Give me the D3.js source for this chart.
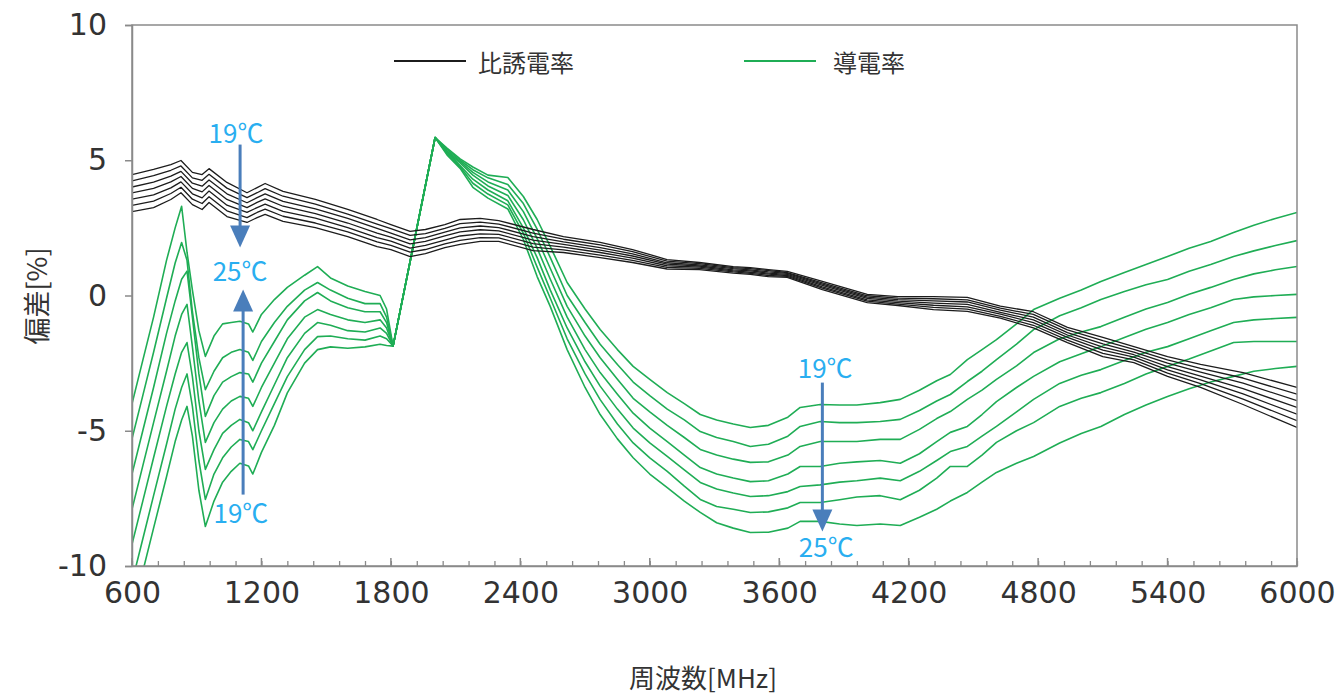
<!DOCTYPE html>
<html>
<head>
<meta charset="utf-8">
<script src="https://cdn.jsdelivr.net/npm/d3@7"></script>
<style>
  body { margin: 0; background: #fff; }
  svg { display: block; }
</style>
</head>
<body>
<svg id="chart" width="1344" height="698"></svg>
<script>
// frequency grids (MHz)
var freqBlack = [600, 700, 780, 827, 880, 925, 957, 1040, 1133, 1180, 1217, 1300, 1450, 1600, 1736, 1800, 1889, 1960, 2050, 2121, 2214, 2300, 2459, 2600, 2770, 2920, 3080, 3230, 3387, 3466, 3550, 3637, 3800, 4008, 4150, 4315, 4472, 4625, 4778, 4936, 5100, 5244, 5400, 5553, 5750, 6000]
var freqGreen = [600, 650, 700, 760, 800, 830, 855, 880, 910, 940, 980, 1020, 1060, 1100, 1140, 1160, 1200, 1260, 1320, 1400, 1460, 1520, 1600, 1680, 1750, 1780, 1810,
  2005, 2060, 2121, 2180, 2250, 2342, 2414, 2478, 2539, 2617, 2700, 2770, 2850, 2923, 3000, 3081, 3160, 3234, 3310, 3387, 3466, 3550, 3640, 3697, 3790, 3880, 3960, 4068, 4161, 4250, 4330, 4393, 4472, 4540, 4607, 4700, 4779, 4900, 5000, 5091, 5200, 5300, 5400, 5500, 5600, 5706, 5800, 5900, 6000]

// 比誘電率 deviation [%], 19℃ .. 25℃
var perm19 = [4.47, 4.66, 4.84, 4.99, 4.55, 4.47, 4.69, 4.18, 3.8, 3.99, 4.14, 3.85, 3.55, 3.18, 2.81, 2.62, 2.37, 2.44, 2.62, 2.81, 2.85, 2.77, 2.44, 2.18, 1.96, 1.7, 1.33, 1.22, 1.07, 1.03, 0.96, 0.89, 0.52, 0.04, -0.04, -0.04, -0.07, -0.39, -0.6, -1.18, -1.55, -1.89, -2.26, -2.55, -2.85, -3.4]
var perm20 = [4.24, 4.43, 4.63, 4.79, 4.35, 4.26, 4.48, 3.97, 3.62, 3.8, 3.95, 3.67, 3.38, 3.01, 2.64, 2.47, 2.22, 2.29, 2.48, 2.66, 2.71, 2.64, 2.31, 2.08, 1.87, 1.62, 1.27, 1.18, 1.03, 0.99, 0.92, 0.85, 0.47, -0.01, -0.1, -0.12, -0.16, -0.47, -0.7, -1.27, -1.67, -1.99, -2.38, -2.69, -3.05, -3.65]
var perm21 = [4.01, 4.19, 4.41, 4.59, 4.15, 4.04, 4.27, 3.76, 3.43, 3.62, 3.76, 3.48, 3.2, 2.85, 2.48, 2.31, 2.06, 2.14, 2.34, 2.5, 2.57, 2.51, 2.18, 1.98, 1.77, 1.54, 1.21, 1.13, 0.99, 0.95, 0.87, 0.82, 0.42, -0.06, -0.15, -0.2, -0.24, -0.54, -0.8, -1.37, -1.79, -2.09, -2.5, -2.83, -3.24, -3.89]
var perm22 = [3.79, 3.96, 4.2, 4.4, 3.96, 3.83, 4.07, 3.55, 3.25, 3.44, 3.57, 3.3, 3.03, 2.68, 2.31, 2.16, 1.91, 2.0, 2.2, 2.35, 2.43, 2.39, 2.05, 1.89, 1.68, 1.46, 1.16, 1.09, 0.95, 0.91, 0.83, 0.78, 0.37, -0.11, -0.21, -0.28, -0.33, -0.62, -0.9, -1.46, -1.91, -2.19, -2.63, -2.98, -3.44, -4.14]
var perm23 = [3.56, 3.72, 3.98, 4.2, 3.76, 3.61, 3.86, 3.34, 3.07, 3.25, 3.38, 3.11, 2.86, 2.51, 2.14, 2.01, 1.75, 1.85, 2.05, 2.2, 2.28, 2.26, 1.92, 1.79, 1.59, 1.38, 1.1, 1.05, 0.91, 0.86, 0.79, 0.74, 0.32, -0.16, -0.26, -0.36, -0.42, -0.69, -1.0, -1.55, -2.02, -2.28, -2.75, -3.12, -3.64, -4.39]
var perm24 = [3.33, 3.49, 3.77, 4.0, 3.56, 3.4, 3.65, 3.13, 2.88, 3.07, 3.19, 2.93, 2.68, 2.35, 1.98, 1.85, 1.6, 1.7, 1.91, 2.04, 2.14, 2.13, 1.79, 1.69, 1.49, 1.3, 1.04, 1.0, 0.87, 0.82, 0.74, 0.71, 0.27, -0.21, -0.32, -0.44, -0.5, -0.77, -1.1, -1.65, -2.14, -2.38, -2.87, -3.26, -3.83, -4.63]
var perm25 = [3.1, 3.25, 3.55, 3.8, 3.36, 3.18, 3.44, 2.92, 2.7, 2.88, 3.0, 2.74, 2.51, 2.18, 1.81, 1.7, 1.44, 1.55, 1.77, 1.89, 2.0, 2.0, 1.66, 1.59, 1.4, 1.22, 0.98, 0.96, 0.83, 0.78, 0.7, 0.67, 0.22, -0.26, -0.37, -0.52, -0.59, -0.84, -1.2, -1.74, -2.26, -2.48, -2.99, -3.4, -4.03, -4.88]

// 導電率 deviation [%], 19℃ .. 25℃
var cond19 = [-11.8, -10.2, -8.6, -6.7, -5.4, -4.6, -4.1, -5.2, -7.2, -8.54, -7.6, -6.9, -6.5, -6.2, -6.3, -6.6, -5.8, -4.8, -3.6, -2.5, -2.0, -1.9, -1.95, -1.9, -1.8, -1.85, -1.87,
  5.84, 5.45, 5.05, 4.75, 4.45, 4.36, 3.66, 2.81, 1.81, 0.48, -0.5, -1.26, -2.0, -2.62, -3.1, -3.59, -4.0, -4.4, -4.6, -4.75, -4.88, -4.8, -4.5, -4.14, -4.03, -4.05, -4.05, -3.96, -3.84, -3.5, -3.15, -2.92, -2.37, -2.0, -1.63, -1.05, -0.52, -0.1, 0.2, 0.52, 0.85, 1.15, 1.44, 1.75, 2.0, 2.33, 2.6, 2.85, 3.07]
var cond20 = [-10.6, -9.0, -7.4, -5.5, -4.2, -3.4, -2.9, -4.1, -6.1, -7.54, -6.6, -6.0, -5.6, -5.32, -5.4, -5.7, -5.0, -4.0, -3.0, -2.0, -1.52, -1.5, -1.6, -1.65, -1.5, -1.6, -1.87,
  5.84, 5.4, 5.0, 4.65, 4.35, 4.1, 3.4, 2.45, 1.4, 0.0, -1.0, -1.8, -2.55, -3.2, -3.7, -4.2, -4.6, -5.03, -5.25, -5.4, -5.58, -5.5, -5.2, -4.84, -4.66, -4.7, -4.7, -4.66, -4.58, -4.25, -3.9, -3.66, -3.18, -2.8, -2.37, -1.8, -1.26, -0.75, -0.45, -0.15, 0.15, 0.4, 0.59, 0.9, 1.15, 1.44, 1.65, 1.85, 2.03]
var cond21 = [-9.2, -7.6, -6.0, -4.1, -2.9, -2.1, -1.74, -3.0, -5.0, -6.43, -5.7, -5.1, -4.8, -4.58, -4.7, -5.0, -4.3, -3.3, -2.3, -1.4, -1.0, -1.1, -1.3, -1.35, -1.2, -1.4, -1.87,
  5.84, 5.35, 4.95, 4.55, 4.2, 3.9, 3.1, 2.1, 1.0, -0.4, -1.5, -2.3, -3.1, -3.8, -4.3, -4.8, -5.25, -5.69, -5.9, -6.05, -6.17, -6.15, -5.9, -5.58, -5.4, -5.4, -5.4, -5.32, -5.32, -4.95, -4.55, -4.29, -3.84, -3.5, -3.1, -2.6, -2.11, -1.6, -1.35, -1.15, -0.8, -0.5, -0.26, 0.05, 0.3, 0.59, 0.8, 0.95, 1.07]
var cond22 = [-7.9, -6.3, -4.7, -2.8, -1.5, -0.7, -0.33, -1.9, -3.9, -5.43, -4.7, -4.2, -3.9, -3.73, -3.8, -4.1, -3.4, -2.5, -1.6, -0.8, -0.52, -0.7, -0.9, -1.0, -0.9, -1.2, -1.87,
  5.84, 5.3, 4.9, 4.45, 4.05, 3.7, 2.8, 1.75, 0.6, -0.8, -2.0, -2.85, -3.65, -4.35, -4.9, -5.4, -5.9, -6.36, -6.6, -6.75, -6.88, -6.85, -6.6, -6.32, -6.32, -6.2, -6.15, -6.1, -6.2, -5.85, -5.4, -5.06, -4.84, -4.4, -3.92, -3.4, -2.99, -2.45, -2.15, -1.89, -1.55, -1.25, -1.0, -0.7, -0.45, -0.15, -0.05, 0.0, 0.04]
var cond23 = [-6.6, -5.0, -3.4, -1.4, -0.2, 0.6, 0.9, -0.8, -2.9, -4.47, -3.7, -3.2, -3.0, -2.85, -2.9, -3.2, -2.5, -1.7, -0.9, -0.2, 0.11, -0.2, -0.45, -0.6, -0.6, -1.0, -1.87,
  5.84, 5.3, 4.8, 4.3, 3.9, 3.5, 2.5, 1.4, 0.2, -1.2, -2.45, -3.35, -4.2, -4.9, -5.45, -5.95, -6.45, -6.91, -7.15, -7.3, -7.43, -7.4, -7.25, -7.06, -7.0, -6.9, -6.85, -6.75, -6.85, -6.5, -6.1, -5.77, -5.58, -5.2, -4.84, -4.3, -3.84, -3.25, -2.95, -2.74, -2.4, -2.1, -1.89, -1.6, -1.3, -1.0, -0.9, -0.85, -0.81]
var cond24 = [-5.3, -3.7, -2.1, -0.1, 1.2, 1.96, 1.3, -0.6, -2.3, -3.48, -2.8, -2.3, -2.1, -2.0, -2.1, -2.4, -1.7, -1.0, -0.4, 0.2, 0.48, 0.2, -0.1, -0.3, -0.3, -0.8, -1.87,
  5.84, 5.25, 4.75, 4.15, 3.75, 3.35, 2.3, 1.05, -0.1, -1.6, -2.9, -3.85, -4.75, -5.45, -6.0, -6.5, -7.05, -7.54, -7.8, -7.9, -8.02, -8.0, -7.85, -7.65, -7.65, -7.55, -7.45, -7.4, -7.55, -7.2, -6.75, -6.32, -6.32, -5.9, -5.43, -5.0, -4.7, -4.1, -3.8, -3.59, -3.25, -2.9, -2.62, -2.35, -2.05, -1.74, -1.7, -1.7, -1.7]
var cond25 = [-4.0, -2.4, -0.8, 1.3, 2.5, 3.3, 1.6, 0.2, -1.3, -2.25, -1.5, -1.05, -1.0, -0.95, -1.05, -1.35, -0.7, -0.15, 0.3, 0.75, 1.07, 0.65, 0.35, 0.15, 0.0, -0.5, -1.87,
  5.84, 5.2, 4.7, 4.0, 3.6, 3.2, 2.07, 0.7, -0.41, -2.0, -3.4, -4.4, -5.3, -6.0, -6.6, -7.1, -7.6, -8.02, -8.4, -8.6, -8.76, -8.75, -8.6, -8.35, -8.35, -8.45, -8.5, -8.45, -8.5, -8.2, -7.9, -7.6, -7.28, -6.9, -6.54, -6.2, -5.95, -5.45, -5.1, -4.84, -4.4, -4.05, -3.73, -3.45, -3.2, -2.99, -2.8, -2.7, -2.62]

var xTicks = [600, 1200, 1800, 2400, 3000, 3600, 4200, 4800, 5400, 6000]
var yTicks = [-10, -5, 0, 5, 10]
var legendNames = ['比誘電率', '導電率']

// temperature notes: text at (MHz, %), arrows from -> to (%)
var tempNotes = [
  {t: '19℃', f: 1082, v: 6.06}, {t: '25℃', f: 1101, v: 0.96}, {t: '19℃', f: 1105, v: -7.99},
  {t: '19℃', f: 3813, v: -2.62}, {t: '25℃', f: 3818, v: -9.24}
]
var tempArrows = [
  {f: 1101, from: 5.58, to: 1.77}, {f: 1115, from: -7.36, to: 0.22}, {f: 3800, from: -3.22, to: -8.72}
]

var permSeries = [perm19, perm20, perm21, perm22, perm23, perm24, perm25]
var condSeries = [cond19, cond20, cond21, cond22, cond23, cond24, cond25]

var BLACK = '#1c1c1c'
var GREEN = '#1fad55'
var AXIS = '#8a8a8a'
var NUM_FONT = '"DejaVu Sans", sans-serif'
var JP_FONT = '"Noto Sans CJK JP", sans-serif'

var svg = d3.select('#chart')
var x = d3.scaleLinear().domain([600, 6000]).range([132, 1297])
var y = d3.scaleLinear().domain([-10, 10]).range([566, 25])

svg.append('clipPath').attr('id', 'plot')
  .append('rect')
  .attr('x', x(600)).attr('y', y(10))
  .attr('width', x(6000) - x(600)).attr('height', y(-10) - y(10))

function pairs (xs, ys) {
  var n = Math.min(xs.length, ys.length)
  return d3.range(n).map(function (i) { return [xs[i], ys[i]] })
}

var line = d3.line()
  .x(function (d) { return x(d[0]) })
  .y(function (d) { return y(d[1]) })

var plot = svg.append('g').attr('clip-path', 'url(#plot)')

plot.selectAll('path.cond')
  .data(condSeries)
  .enter().append('path')
  .attr('class', 'cond')
  .attr('d', function (s) { return line(pairs(freqGreen, s)) })
  .attr('fill', 'none')
  .attr('stroke', GREEN)
  .attr('stroke-width', 1.6)
  .attr('stroke-linejoin', 'round')

plot.selectAll('path.perm')
  .data(permSeries)
  .enter().append('path')
  .attr('class', 'perm')
  .attr('d', function (s) { return line(pairs(freqBlack, s)) })
  .attr('fill', 'none')
  .attr('stroke', BLACK)
  .attr('stroke-width', 1.3)
  .attr('stroke-linejoin', 'round')

// frame
svg.append('rect')
  .attr('x', x(600)).attr('y', y(10))
  .attr('width', x(6000) - x(600)).attr('height', y(-10) - y(10))
  .attr('fill', 'none').attr('stroke', AXIS).attr('stroke-width', 1.5)

// y axis
var yAxis = svg.append('g')
  .attr('transform', 'translate(' + x(600) + ',0)')
  .call(d3.axisLeft(y).tickValues(yTicks).tickSize(7).tickPadding(18).tickFormat(function (d) { return String(d) }))
yAxis.select('.domain').attr('stroke', AXIS).attr('stroke-width', 1.5)
yAxis.selectAll('.tick line').attr('stroke', AXIS).attr('stroke-width', 1.5)
yAxis.selectAll('.tick text')
  .attr('font-family', NUM_FONT).attr('font-size', 30).attr('fill', '#333')

// x axis: minor ticks inside, labels below
var xMinor = svg.append('g')
  .attr('transform', 'translate(0,' + y(-10) + ')')
  .call(d3.axisTop(x).tickValues(d3.range(600, 6001, 120)).tickSize(5).tickFormat(''))
xMinor.select('.domain').remove()
xMinor.selectAll('.tick line').attr('stroke', AXIS).attr('stroke-width', 1.3)

var xAxis = svg.append('g')
  .attr('transform', 'translate(0,' + y(-10) + ')')
  .call(d3.axisBottom(x).tickValues(xTicks).tickSize(0).tickPadding(16).tickFormat(function (d) { return String(d) }))
xAxis.select('.domain').attr('stroke', AXIS).attr('stroke-width', 1.5)
xAxis.selectAll('.tick text')
  .attr('font-family', NUM_FONT).attr('font-size', 30).attr('fill', '#333')

svg.append('g')
  .attr('transform', 'translate(0,' + y(-10) + ')')
  .selectAll('line').data(xTicks)
  .enter().append('line')
  .attr('x1', function (d) { return x(d) }).attr('x2', function (d) { return x(d) })
  .attr('y1', 0).attr('y2', -8)
  .attr('stroke', AXIS).attr('stroke-width', 1.5)

// axis titles
svg.append('text')
  .attr('x', 703).attr('y', 688)
  .attr('text-anchor', 'middle')
  .attr('font-family', JP_FONT).attr('font-size', 26).attr('fill', '#333')
  .text('周波数[MHz]')

svg.append('text')
  .attr('transform', 'translate(35,296) rotate(-90)')
  .attr('text-anchor', 'middle').attr('dominant-baseline', 'central')
  .attr('font-family', JP_FONT).attr('font-size', 27).attr('fill', '#333')
  .text('偏差[%]')

// legend
var legend = svg.append('g')
legend.selectAll('line').data([BLACK, GREEN])
  .enter().append('line')
  .attr('x1', function (d, i) { return i ? 744 : 394 })
  .attr('x2', function (d, i) { return i ? 816 : 466 })
  .attr('y1', 61).attr('y2', 61)
  .attr('stroke', function (d) { return d }).attr('stroke-width', 2)
legend.selectAll('text').data(legendNames)
  .enter().append('text')
  .attr('x', function (d, i) { return i ? 833 : 478 })
  .attr('y', 61)
  .attr('dominant-baseline', 'central')
  .attr('font-family', JP_FONT).attr('font-size', 24).attr('fill', '#333')
  .text(function (d) { return d })

// temperature arrows
var ARROW = '#4a7ebb'
tempArrows.forEach(function (a) {
  var px = x(a.f), y1 = y(a.from), y2 = y(a.to)
  var dir = y2 > y1 ? 1 : -1
  svg.append('line')
    .attr('x1', px).attr('x2', px)
    .attr('y1', y1).attr('y2', y2 - dir * 18)
    .attr('stroke', ARROW).attr('stroke-width', 3)
  svg.append('path')
    .attr('d', 'M' + (px - 10) + ',' + (y2 - dir * 22) + 'L' + (px + 10) + ',' + (y2 - dir * 22) + 'L' + px + ',' + y2 + 'Z')
    .attr('fill', ARROW)
})

svg.selectAll('text.note')
  .data(tempNotes)
  .enter().append('text')
  .attr('class', 'note')
  .attr('x', function (d) { return x(d.f) })
  .attr('y', function (d) { return y(d.v) })
  .attr('text-anchor', 'middle').attr('dominant-baseline', 'central')
  .attr('font-family', JP_FONT).attr('font-size', 26).attr('fill', '#29aef0')
  .text(function (d) { return d.t })
</script>
</body>
</html>
